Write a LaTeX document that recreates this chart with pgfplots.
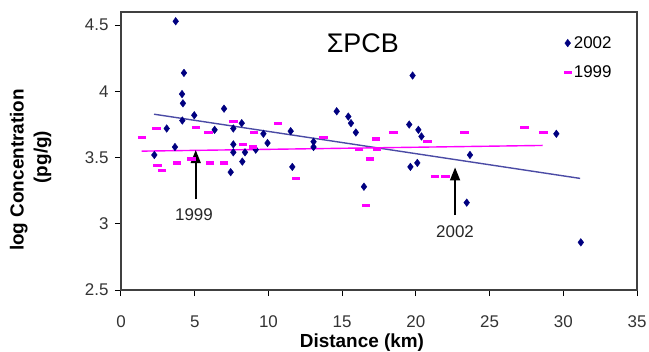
\documentclass[border=0pt]{standalone}
\usepackage{fontspec}
\setmainfont{Liberation Sans}
\usepackage{pgfplots}
\pgfplotsset{compat=1.18}
\usetikzlibrary{arrows.meta}
\definecolor{navyc}{RGB}{0,0,128}
\definecolor{trendn}{RGB}{75,75,165}
\definecolor{magc}{RGB}{255,0,255}
\begin{document}
\begin{tikzpicture}
\begin{axis}[
  scale only axis,
  width=516bp, height=278bp,
  xmin=0, xmax=35, ymin=2.5, ymax=4.6,
  xtick={0,5,...,35}, ytick={2.5,3,3.5,4,4.5},
  yticklabels={2.5,3,3.5,4,4.5},
  xtick pos=bottom, ytick pos=left,
  tick align=outside,
  major tick length=6bp,
  axis line style={line width=1.3bp, black!75},
  every tick/.style={line width=1bp, black},
  /pgf/number format/assume math mode=true,
  tick label style={font=\fontsize{17}{20}\selectfont, text=black!80},
  xticklabel style={yshift=-16bp},
  yticklabel style={xshift=-3bp},
  legend style={draw=none, fill=none, at={(axis description cs:0.955,0.92)}, anchor=north east,
    font=\fontsize{17}{20}\selectfont, row sep=12bp, inner sep=0pt,
    /tikz/every even column/.append style={column sep=2bp}},
  legend cell align=left,
  clip=false,
]
\addplot[only marks, mark=diamond*, mark size=3.8bp, navyc, mark options={fill=navyc, draw=navyc}] coordinates {
(3.71,4.53) (4.27,4.14) (4.14,3.98) (4.20,3.91) (4.97,3.82) (4.16,3.78) (3.10,3.72)
(6.99,3.87) (6.35,3.71) (7.62,3.72) (8.19,3.76) (9.66,3.68) (9.94,3.61) (2.26,3.52)
(3.66,3.58) (7.62,3.60) (7.62,3.54) (8.41,3.54) (8.23,3.47) (7.44,3.39) (9.14,3.56)
(11.51,3.70) (13.06,3.62) (13.06,3.58) (11.62,3.43) (14.63,3.85) (15.42,3.81) (15.60,3.76)
(15.93,3.69) (19.78,4.12) (19.55,3.75) (20.17,3.71) (20.38,3.66) (19.63,3.43) (20.10,3.46)
(16.48,3.28) (23.67,3.52) (23.45,3.16) (29.53,3.68) (31.19,2.86)
};
\addlegendentry{2002}
\addplot[only marks, mark=-, mark size=4.2bp, magc, mark options={line width=3.2bp}] coordinates {
(1.42,3.65) (2.42,3.72) (2.48,3.44) (2.78,3.40) (3.78,3.46) (4.79,3.49) (5.08,3.73)
(5.93,3.69) (6.04,3.46) (6.99,3.46) (7.62,3.77) (8.27,3.60) (8.94,3.58) (9.04,3.69)
(10.63,3.76) (11.85,3.34) (13.73,3.65) (16.15,3.56) (16.89,3.49) (16.60,3.14) (17.28,3.64)
(17.35,3.56) (18.47,3.69) (20.80,3.62) (21.30,3.36) (22.00,3.36) (23.29,3.69) (27.36,3.73)
(28.65,3.69)
};
\addlegendentry{1999}
\addplot[trendn, line width=1.4bp, forget plot] coordinates {(2.24,3.828) (31.14,3.343)};
\addplot[magc, line width=1.4bp, forget plot] coordinates {(1.4,3.549) (28.6,3.592)};
\draw[line width=1.6bp, -{Triangle[width=10bp,length=13bp]}] (axis cs:5.07,3.184) -- (axis cs:5.07,3.557);
\draw[line width=1.6bp, -{Triangle[width=10bp,length=13bp]}] (axis cs:22.66,3.066) -- (axis cs:22.66,3.426);
\node[font=\fontsize{17}{20}\selectfont, text=black!85] at (axis cs:4.95,3.066) {1999};
\node[font=\fontsize{17}{20}\selectfont, text=black!85] at (axis cs:22.66,2.938) {2002};
\node[font=\fontsize{27}{32}\selectfont] at (axis cs:16.4,4.364) {ΣPCB};
\node[font=\bfseries\fontsize{19}{22}\selectfont] at (axis description cs:0.467,-0.19) {Distance (km)};
\node[font=\bfseries\fontsize{19}{22}\selectfont, rotate=90] at (axis description cs:-0.198,0.432) {log Concentration};
\node[font=\bfseries\fontsize{19}{22}\selectfont, rotate=90] at (axis description cs:-0.152,0.478) {(pg/g)};
\end{axis}
\pgfresetboundingbox
\useasboundingbox (-121bp,-62bp) rectangle (528bp,290bp);
\end{tikzpicture}
\end{document}
